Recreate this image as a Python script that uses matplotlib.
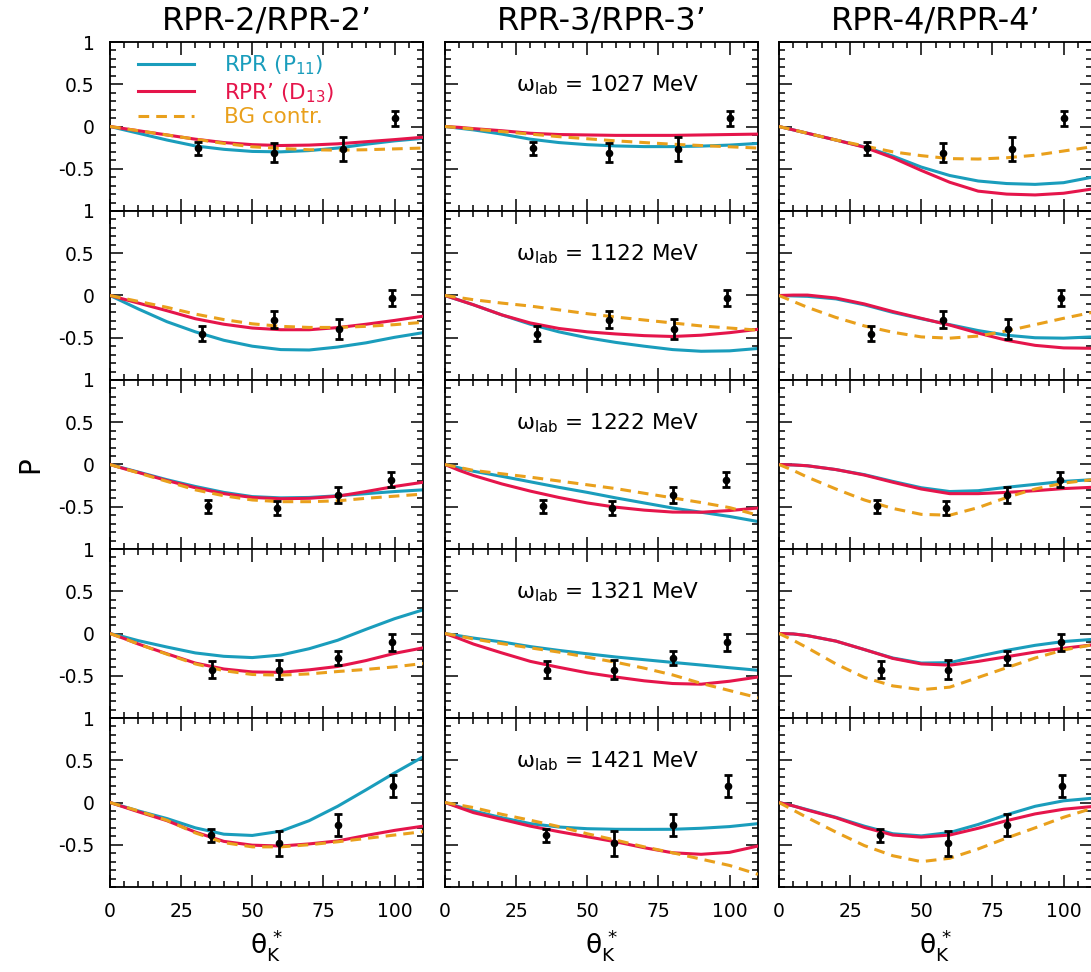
import matplotlib.pyplot as plt
from matplotlib.ticker import MultipleLocator, FixedLocator, FuncFormatter

plt.rcParams['axes.unicode_minus'] = False
plt.rcParams['font.family'] = ['DejaVu Sans']

# -------------------------
# model columns and photon energies
# -------------------------
titles = ["RPR-2/RPR-2’", "RPR-3/RPR-3’", "RPR-4/RPR-4’"]
energies = [1027, 1122, 1222, 1321, 1421]

# kaon c.m. angle grid for the model curves
theta = [0, 5, 10, 20, 30, 40, 50, 60, 70, 80, 90, 100, 110]

# measured recoil polarization (one row per energy)
data_theta = [
    [31.0, 57.5, 82.0, 100.0],
    [32.2, 57.5, 80.5, 99.2],
    [34.4, 58.6, 80.1, 98.7],
    [36.0, 59.4, 80.3, 99.2],
    [35.6, 59.5, 80.3, 99.5],
]
data_p = [
    [-0.26, -0.31, -0.27, 0.095],
    [-0.45, -0.286, -0.397, -0.032],
    [-0.496, -0.512, -0.361, -0.179],
    [-0.427, -0.43, -0.288, -0.103],
    [-0.385, -0.484, -0.266, 0.194],
]
data_err = [
    [0.08, 0.11, 0.14, 0.09],
    [0.087, 0.10, 0.115, 0.095],
    [0.075, 0.085, 0.09, 0.09],
    [0.10, 0.113, 0.08, 0.10],
    [0.077, 0.145, 0.125, 0.127],
]

# RPR-2 / RPR-2'
rpr2_p11 = [
    [0, -0.04, -0.08, -0.16, -0.23, -0.27, -0.295, -0.30, -0.285, -0.255, -0.21, -0.17, -0.14],
    [0, -0.08, -0.16, -0.31, -0.43, -0.53, -0.60, -0.64, -0.645, -0.61, -0.56, -0.495, -0.44],
    [0, -0.045, -0.09, -0.18, -0.26, -0.33, -0.38, -0.395, -0.39, -0.37, -0.345, -0.32, -0.30],
    [0, -0.04, -0.085, -0.16, -0.23, -0.27, -0.285, -0.255, -0.18, -0.08, 0.05, 0.175, 0.28],
    [0, -0.05, -0.10, -0.19, -0.30, -0.375, -0.39, -0.34, -0.215, -0.045, 0.15, 0.35, 0.54],
]
rpr2_d13 = [
    [0, -0.025, -0.05, -0.10, -0.15, -0.19, -0.215, -0.225, -0.22, -0.205, -0.18, -0.155, -0.127],
    [0, -0.045, -0.09, -0.18, -0.275, -0.34, -0.385, -0.405, -0.405, -0.38, -0.34, -0.295, -0.245],
    [0, -0.05, -0.095, -0.19, -0.275, -0.345, -0.39, -0.405, -0.40, -0.375, -0.32, -0.26, -0.21],
    [0, -0.06, -0.125, -0.24, -0.35, -0.42, -0.455, -0.46, -0.43, -0.39, -0.32, -0.235, -0.17],
    [0, -0.055, -0.11, -0.215, -0.35, -0.46, -0.505, -0.515, -0.49, -0.455, -0.39, -0.33, -0.28],
]
rpr2_bg = [
    [0, -0.025, -0.05, -0.10, -0.15, -0.20, -0.24, -0.26, -0.275, -0.28, -0.275, -0.265, -0.255],
    [0, -0.035, -0.07, -0.14, -0.22, -0.285, -0.335, -0.365, -0.378, -0.378, -0.365, -0.345, -0.317],
    [0, -0.05, -0.10, -0.20, -0.30, -0.37, -0.42, -0.44, -0.44, -0.43, -0.40, -0.375, -0.35],
    [0, -0.06, -0.125, -0.245, -0.36, -0.44, -0.485, -0.493, -0.478, -0.45, -0.425, -0.395, -0.355],
    [0, -0.05, -0.10, -0.21, -0.36, -0.475, -0.525, -0.525, -0.50, -0.465, -0.425, -0.385, -0.345],
]

# RPR-3 / RPR-3'
rpr3_p11 = [
    [0, -0.02, -0.04, -0.09, -0.15, -0.19, -0.215, -0.23, -0.238, -0.238, -0.232, -0.22, -0.20],
    [0, -0.055, -0.11, -0.23, -0.34, -0.43, -0.50, -0.555, -0.60, -0.64, -0.66, -0.655, -0.627],
    [0, -0.04, -0.08, -0.14, -0.205, -0.27, -0.33, -0.395, -0.455, -0.515, -0.565, -0.615, -0.675],
    [0, -0.027, -0.054, -0.10, -0.155, -0.20, -0.24, -0.278, -0.31, -0.342, -0.373, -0.405, -0.435],
    [0, -0.05, -0.10, -0.18, -0.25, -0.29, -0.31, -0.317, -0.318, -0.317, -0.305, -0.285, -0.25],
]
rpr3_d13 = [
    [0, -0.01, -0.025, -0.05, -0.08, -0.095, -0.10, -0.105, -0.105, -0.105, -0.10, -0.095, -0.09],
    [0, -0.055, -0.11, -0.23, -0.325, -0.39, -0.43, -0.455, -0.475, -0.485, -0.47, -0.44, -0.40],
    [0, -0.07, -0.13, -0.23, -0.315, -0.39, -0.455, -0.505, -0.54, -0.563, -0.565, -0.545, -0.515],
    [0, -0.06, -0.125, -0.23, -0.33, -0.40, -0.465, -0.515, -0.56, -0.592, -0.60, -0.565, -0.515],
    [0, -0.06, -0.12, -0.20, -0.28, -0.345, -0.405, -0.465, -0.535, -0.595, -0.613, -0.59, -0.515],
]
rpr3_bg = [
    [0, -0.015, -0.03, -0.06, -0.09, -0.12, -0.145, -0.17, -0.19, -0.21, -0.225, -0.24, -0.255],
    [0, -0.025, -0.05, -0.09, -0.125, -0.17, -0.215, -0.255, -0.29, -0.325, -0.36, -0.385, -0.41],
    [0, -0.035, -0.07, -0.11, -0.15, -0.195, -0.24, -0.285, -0.34, -0.395, -0.45, -0.51, -0.60],
    [0, -0.03, -0.065, -0.12, -0.17, -0.22, -0.28, -0.34, -0.41, -0.49, -0.59, -0.675, -0.76],
    [0, -0.03, -0.06, -0.14, -0.21, -0.285, -0.37, -0.445, -0.525, -0.595, -0.67, -0.745, -0.85],
]

# RPR-4 / RPR-4'
rpr4_p11 = [
    [0, -0.04, -0.08, -0.16, -0.24, -0.35, -0.48, -0.58, -0.645, -0.675, -0.685, -0.665, -0.60],
    [0, -0.005, -0.01, -0.04, -0.11, -0.20, -0.275, -0.345, -0.415, -0.47, -0.50, -0.505, -0.49],
    [0, -0.005, -0.015, -0.06, -0.12, -0.20, -0.275, -0.32, -0.31, -0.27, -0.235, -0.20, -0.18],
    [0, -0.005, -0.025, -0.09, -0.19, -0.29, -0.35, -0.345, -0.27, -0.20, -0.14, -0.095, -0.07],
    [0, -0.04, -0.085, -0.175, -0.28, -0.37, -0.395, -0.355, -0.26, -0.145, -0.045, 0.02, 0.05],
]
rpr4_d13 = [
    [0, -0.04, -0.08, -0.16, -0.245, -0.37, -0.52, -0.66, -0.765, -0.80, -0.81, -0.79, -0.74],
    [0, 0.005, 0.005, -0.03, -0.10, -0.19, -0.27, -0.35, -0.445, -0.53, -0.59, -0.62, -0.625],
    [0, -0.005, -0.015, -0.06, -0.125, -0.21, -0.29, -0.345, -0.345, -0.33, -0.31, -0.285, -0.27],
    [0, -0.005, -0.025, -0.09, -0.19, -0.295, -0.36, -0.375, -0.33, -0.275, -0.22, -0.175, -0.135],
    [0, -0.04, -0.09, -0.18, -0.295, -0.385, -0.41, -0.385, -0.305, -0.215, -0.135, -0.08, -0.048],
]
rpr4_bg = [
    [0, -0.04, -0.08, -0.16, -0.23, -0.30, -0.345, -0.38, -0.385, -0.37, -0.34, -0.29, -0.24],
    [0, -0.07, -0.14, -0.26, -0.36, -0.435, -0.49, -0.505, -0.48, -0.42, -0.345, -0.27, -0.20],
    [0, -0.07, -0.15, -0.29, -0.42, -0.52, -0.59, -0.60, -0.51, -0.39, -0.29, -0.22, -0.18],
    [0, -0.08, -0.17, -0.36, -0.52, -0.62, -0.665, -0.635, -0.52, -0.405, -0.29, -0.195, -0.135],
    [0, -0.09, -0.18, -0.35, -0.51, -0.63, -0.70, -0.66, -0.55, -0.42, -0.30, -0.175, -0.07],
]

p11_curves = [rpr2_p11, rpr3_p11, rpr4_p11]
d13_curves = [rpr2_d13, rpr3_d13, rpr4_d13]
bg_curves = [rpr2_bg, rpr3_bg, rpr4_bg]

blue = "#1a9dbc"
red = "#e5154b"
orange = "#e9a01c"

# -------------------------
# PANEL GRID (pixel layout)
# -------------------------
W, H = 1091, 972
fig = plt.figure(figsize=(W / 100, H / 100), dpi=100)

col_left = [110, 445, 779]
col_w = 313
top = 42
row_h = 169

for r in range(5):
    for c in range(3):
        y0 = top + (r + 1) * row_h
        ax = fig.add_axes([col_left[c] / W, 1 - y0 / H, col_w / W, row_h / H])

        ax.plot(theta, p11_curves[c][r], color=blue, lw=2.2, label="RPR (P$_{11}$)",
                zorder=2, solid_joinstyle="round")
        ax.plot(theta, d13_curves[c][r], color=red, lw=2.2, label="RPR’ (D$_{13}$)",
                zorder=3, solid_joinstyle="round")
        ax.plot(theta, bg_curves[c][r], color=orange, lw=2.2, dashes=(3.5, 2.3),
                label="BG contr.", zorder=4)
        ax.errorbar(data_theta[r], data_p[r], yerr=data_err[r], fmt="o", color="k",
                    ms=4.5, elinewidth=2, capsize=3, capthick=2, zorder=5)

        ax.set_xlim(0, 110)
        ax.set_ylim(-1, 1)
        ax.xaxis.set_major_locator(FixedLocator([0, 25, 50, 75, 100]))
        ax.xaxis.set_minor_locator(MultipleLocator(5))
        ax.yaxis.set_major_locator(FixedLocator([-0.5, 0, 0.5, 1]))
        ax.yaxis.set_minor_locator(MultipleLocator(0.1))
        ax.yaxis.set_major_formatter(FuncFormatter(lambda v, p: "%g" % v))

        ax.tick_params(which="both", direction="in", top=True, right=True, width=1.1)
        ax.tick_params(which="major", length=9)
        ax.tick_params(which="minor", length=4.5)
        ax.tick_params(axis="y", labelsize=13.5, pad=11, labelleft=(c == 0))
        ax.tick_params(axis="x", labelsize=13.5, pad=11, labelbottom=(r == 4))
        for s in ax.spines.values():
            s.set_linewidth(1.3)

        if r == 0:
            ax.set_title(titles[c], fontsize=23, pad=9)
        if r == 4:
            ax.set_xlabel("θ$_{\\rm K}^{\\,*}$", fontsize=19, labelpad=4)
        if c == 1:
            ax.text(57.3, 0.49, "ω$_{\\rm lab}$ = %d MeV" % energies[r],
                    fontsize=15.5, ha="center", va="center")
        if r == 0 and c == 0:
            ax.legend(loc="upper left", bbox_to_anchor=(0.09, 0.93), frameon=False,
                      fontsize=15.5, labelcolor="linecolor", handlelength=2.6,
                      handletextpad=1.4, labelspacing=0.12, borderpad=0, borderaxespad=0)

fig.text(30 / W, 1 - 465 / H, "P", fontsize=20, rotation=90, ha="center", va="center")

fig.savefig("out.png", dpi=100)
